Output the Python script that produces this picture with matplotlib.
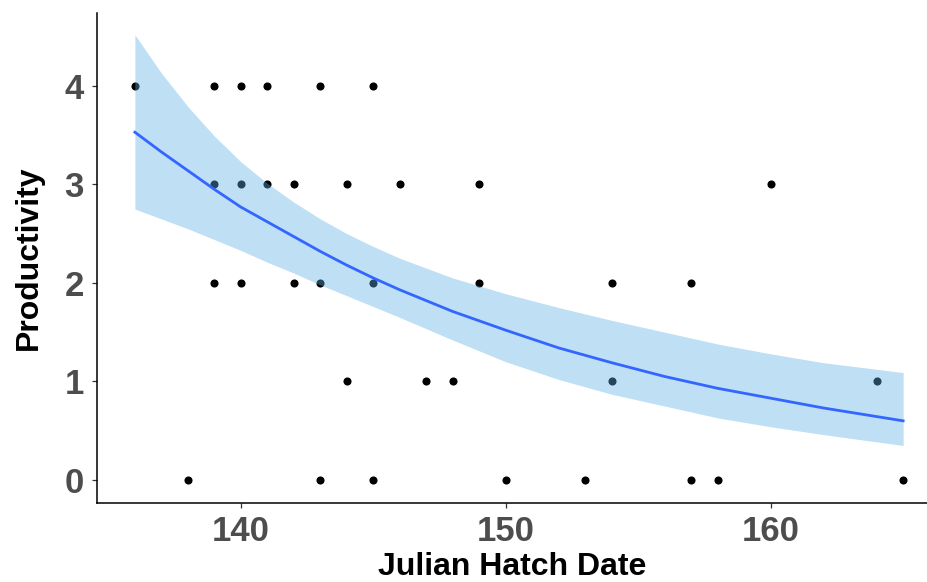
import matplotlib
matplotlib.use("Agg")
import matplotlib.pyplot as plt

plt.rcParams["font.family"] = ["Liberation Sans", "DejaVu Sans"]

# observed nests: hatch date vs productivity
hatch_date = [136, 139, 140, 141, 143, 145,
              139, 140, 141, 142, 144, 146, 149, 160,
              139, 140, 142, 143, 145, 149, 154, 157,
              144, 147, 148, 154, 164,
              138, 143, 145, 150, 153, 157, 158, 165]
productivity = [4, 4, 4, 4, 4, 4,
                3, 3, 3, 3, 3, 3, 3, 3,
                2, 2, 2, 2, 2, 2, 2, 2,
                1, 1, 1, 1, 1,
                0, 0, 0, 0, 0, 0, 0, 0]

# fitted curve and confidence band
fit_x = [136, 137, 138, 139, 140, 141, 142, 143, 144, 145, 146, 148, 150, 152, 154, 156, 158, 160, 162, 165]
fit_y = [3.53, 3.33, 3.14, 2.95, 2.77, 2.62, 2.47, 2.32, 2.18, 2.05, 1.93, 1.71, 1.52, 1.34, 1.19, 1.05, 0.93, 0.83, 0.73, 0.60]
fit_lo = [2.75, 2.65, 2.55, 2.44, 2.33, 2.21, 2.10, 1.98, 1.87, 1.76, 1.65, 1.42, 1.20, 1.02, 0.87, 0.75, 0.63, 0.54, 0.46, 0.35]
fit_hi = [4.52, 4.13, 3.79, 3.49, 3.23, 3.01, 2.82, 2.65, 2.50, 2.37, 2.25, 2.05, 1.89, 1.75, 1.62, 1.50, 1.38, 1.28, 1.19, 1.09]

x_ticks = [140, 150, 160]
y_ticks = [0, 1, 2, 3, 4]

fig = plt.figure(figsize=(9.27, 5.82), dpi=100)
ax = fig.add_axes([97 / 927, 79 / 582, 830 / 927, 490 / 582])

ax.scatter(hatch_date, productivity, s=34, color="black", linewidths=0, zorder=2)
ax.fill_between(fit_x, fit_lo, fit_hi, color="#5FAFE6", alpha=0.4, linewidth=0, zorder=3)
ax.plot(fit_x, fit_y, color="#3366FF", lw=2, zorder=4)

ax.set_xlim(134.57, 165.9)
ax.set_ylim(-0.234, 4.74)
ax.set_xticks(x_ticks)
ax.set_yticks(y_ticks)

for side in ("top", "right"):
    ax.spines[side].set_visible(False)
for side in ("left", "bottom"):
    ax.spines[side].set_linewidth(1.1)
    ax.spines[side].set_color("black")

ax.tick_params(axis="both", length=3.5, width=0.9, color="#333333",
               labelsize=25, labelcolor="#4D4D4D")
ax.tick_params(axis="x", pad=5)
ax.tick_params(axis="y", pad=6)
for lab in ax.get_xticklabels() + ax.get_yticklabels():
    lab.set_fontweight("bold")

ax.set_xlabel("Julian Hatch Date", fontsize=23, fontweight="bold", labelpad=3)
ax.set_ylabel("Productivity", fontsize=23, fontweight="bold", labelpad=15)

fig.savefig("out.png", dpi=100)
